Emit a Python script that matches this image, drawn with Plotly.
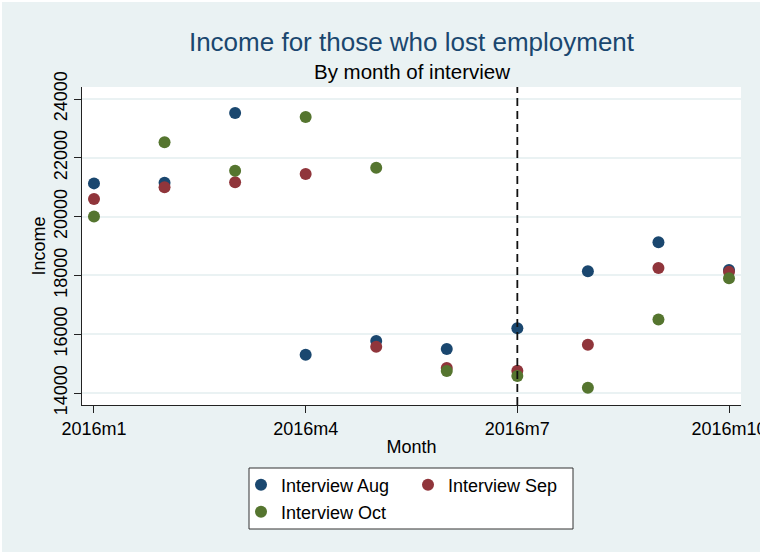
import plotly.graph_objects as go

# ---- data ----
months = ["2016m1", "2016m2", "2016m3", "2016m4", "2016m5",
          "2016m6", "2016m7", "2016m8", "2016m9", "2016m10"]
income_aug = [21130, 21150, 23520, 15300, 15770, 15500, 16200, 18140, 19130, 18180]
income_sep = [20600, 21000, 21170, 21450, 15570, 14850, 14760, 15640, 18250, 18120]
income_oct = [20000, 22530, 21560, 23390, 21660, 14750, 14580, 14180, 16500, 17900]
series_names = ["Interview Aug", "Interview Sep", "Interview Oct"]
x_tick_labels = ["2016m1", "2016m4", "2016m7", "2016m10"]
y_tick_values = [14000, 16000, 18000, 20000, 22000, 24000]
event_month = "2016m7"

# ---- style ----
colors = ["#1a476f", "#90353b", "#55752f"]
FONT = "Liberation Sans, Arial, sans-serif"
W, H = 766, 552
ML, MR, MT, MB = 82, 25, 87, 147
PW, PH = W - ML - MR, H - MT - MB

def px_x(p):
    return (p - ML) / PW

def px_y(p):
    return (H - MB - p) / PH

xnum = [months.index(m) + 1 for m in months]

fig = go.Figure()
for name, vals, col, lg in zip(series_names, [income_aug, income_sep, income_oct],
                               colors, ["legend", "legend", "legend2"]):
    fig.add_trace(go.Scatter(
        x=xnum, y=vals, mode="markers", name=name, legend=lg,
        marker=dict(color=col, size=12, line=dict(width=0)),
    ))

shapes = []
# dashed reference line
shapes.append(dict(type="line", xref="x", yref="paper",
                   x0=months.index(event_month) + 1, x1=months.index(event_month) + 1,
                   y0=0, y1=1, line=dict(color="#111111", width=1.8, dash="8px,5px"),
                   layer="above"))
# legend box
shapes.append(dict(type="rect", xref="paper", yref="paper",
                   x0=px_x(249), x1=px_x(573), y0=px_y(529), y1=px_y(468),
                   line=dict(color="#333333", width=1), fillcolor="white", layer="above"))
# white outer border strips
for (a, b, c, d) in [(760, 770, -5, 560), (-5, 2, -5, 560), (-5, 770, -5, 2)]:
    shapes.append(dict(type="rect", xref="paper", yref="paper",
                       x0=px_x(a), x1=px_x(b), y0=px_y(d), y1=px_y(c),
                       line=dict(width=0), fillcolor="white", layer="above"))

fig.update_layout(
    width=W, height=H,
    margin=dict(l=ML, r=MR, t=MT, b=MB, autoexpand=False),
    paper_bgcolor="#eaf2f3", plot_bgcolor="white",
    font=dict(family=FONT, size=18, color="black"),
    title=dict(text="Income for those who lost employment", x=0.5, xref="paper",
               xanchor="center", y=1 - 42 / H, yref="container", yanchor="middle",
               font=dict(size=26, color="#1a476f", family=FONT)),
    showlegend=True,
    legend=dict(orientation="h", xref="container", yref="container",
                x=241 / W, xanchor="left", y=1 - 485 / H, yanchor="middle",
                bgcolor="rgba(0,0,0,0)", borderwidth=0, entrywidth=122,
                font=dict(size=18, family=FONT)),
    legend2=dict(orientation="h", xref="container", yref="container",
                 x=241 / W, xanchor="left", y=1 - 512 / H, yanchor="middle",
                 bgcolor="rgba(0,0,0,0)", borderwidth=0, entrywidth=122,
                 font=dict(size=18, family=FONT)),
    shapes=shapes,
    annotations=[dict(text="By month of interview", xref="paper", yref="paper",
                      x=0.5, y=px_y(72), xanchor="center", yanchor="middle",
                      showarrow=False, font=dict(size=20.5, color="black", family=FONT))],
)

fig.update_xaxes(
    range=[0.83, 10.17], tickmode="array",
    tickvals=[months.index(m) + 1 for m in x_tick_labels], ticktext=x_tick_labels,
    showgrid=False, zeroline=False, showline=True, linecolor="#222222", linewidth=1,
    ticks="outside", ticklen=7, tickcolor="#222222", ticklabeloverflow="allow",
    title=dict(text="Month", standoff=2, font=dict(size=18, family=FONT)),
    automargin=False,
)
fig.update_yaxes(
    range=[13592, 24408], tickmode="array", tickvals=y_tick_values,
    ticktext=[str(v) for v in y_tick_values], tickangle=-90,
    showgrid=True, gridcolor="#eaf2f3", gridwidth=1.5, zeroline=False,
    showline=True, linecolor="#222222", linewidth=1,
    ticks="outside", ticklen=7, tickcolor="#222222",
    title=dict(text="Income", standoff=0, font=dict(size=18, family=FONT)),
    automargin=False,
)

fig.write_html("out.html", config={"displayModeBar": False},
               post_script="document.body.style.margin='0';")
